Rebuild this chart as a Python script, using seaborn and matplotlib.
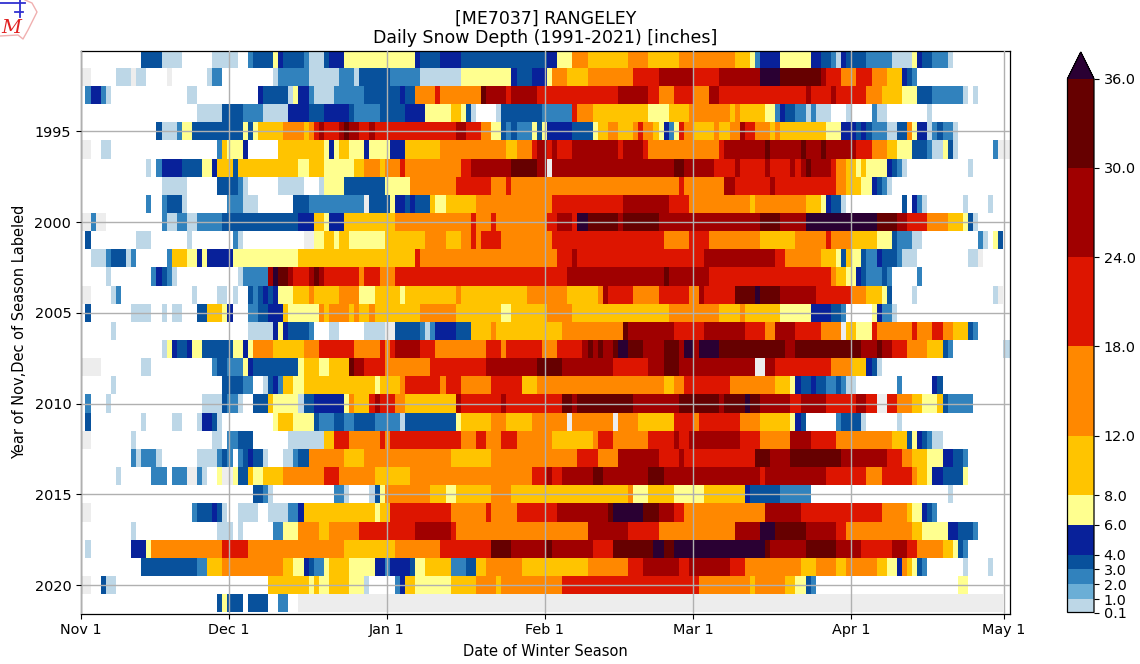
import numpy as np
import pandas as pd
import matplotlib
matplotlib.use("Agg")
import matplotlib.pyplot as plt
from matplotlib.colors import ListedColormap, BoundaryNorm
from matplotlib.lines import Line2D
import seaborn as sns

# Snow depth runs: "<class><first day index>"
Y1991 = "z0 d12 a16 z20 a26 z31 c33 d34 f38 e39 d40 c44 a45 d48 e49 f52 e66 d67 e71 d75 e92 f94 h97 g100 h108 g112 h118 g129 f132 c133 e134 f138 e144 d146 c148 a149 e150 d151 c155 a160 f164 e165 d166 c168 a171 z172"
Y1992 = "m0 z2 a7 m10 a11 z13 m17 z18 a25 c26 z28 a38 c39 a45 c51 a54 d55 c61 a67 f75 e85 d86 e89 f92 h93 g96 h100 i109 j114 i121 j126 l134 k138 j146 i147 h150 i153 h156 g159 e162 d163 c164 z165"
Y1993 = "z0 c1 e2 c4 a5 z6 a21 z23 e35 d36 a41 f42 e43 c45 a46 c50 d56 e63 d64 h66 i70 h71 k79 j80 i84 j85 i90 j106 i112 h114 i117 h121 j124 i126 j143 i144 j148 i149 h155 g158 f162 d165 c168 a174 z175 a176 z177"
Y1994 = "z0 a23 d28 c32 a36 e41 d45 e48 d53 c54 d59 e64 f68 g73 f75 d76 a77 z78 a82 d83 c91 i97 h98 g101 f112 g116 h120 g128 h129 g130 f135 c137 e138 d139 c141 a143 c144 a145 z148 a151 z152 c156 a157 z159 a167 z168"
Y1995 = "z0 d15 a16 c19 f20 d22 f32 d33 f34 g35 h40 g44 h45 i46 j47 i48 j51 k52 j53 i55 j57 i58 j74 i76 h79 f81 d83 c84 d85 c86 f89 d90 f91 e92 d97 f101 g102 h104 g106 h109 i110 h111 g113 f114 e115 c116 f117 i118 h119 g121 h125 g126 h128 j130 i131 h133 g136 h137 g138 f147 e150 d153 e154 d155 c156 a159 d161 h163 f164 e165 a167 c168 d169 c170 a172 z173"
Y1996 = "m0 z2 a4 z6 c27 g28 f29 e32 z33 g39 f48 e49 f50 g51 f53 e56 f57 e61 g64 h71 g84 h86 i89 j90 i92 j93 i94 j97 i106 j107 i111 h112 i126 j127 k135 j136 k142 j143 k146 j147 i153 h156 g159 f161 d164 c167 a168 f170 d171 a172 z173 c180 m181"
Y1997 = "z0 a13 z14 c15 e16 d20 f24 e26 g27 d30 g31 f43 g45 f48 g54 h56 g59 h60 i63 h64 i75 j77 k85 j90 m92 j93 k117 j119 i125 j129 i130 j135 i136 j140 i141 j142 k143 j144 i148 h149 g151 f153 g154 f155 e159 d160 c161 a162 z163 a175 z176"
Y1998 = "z0 a16 z21 d27 c31 a32 z33 a39 z44 a47 f48 d52 f60 h65 i74 h81 i84 h85 i118 h119 j127 i129 j136 i137 h149 g151 f154 e156 d157 c158 a159 z160"
Y1999 = "z0 c13 z14 c16 d17 a20 z21 c29 a32 z35 d42 c45 m56 d57 f61 e62 d64 e65 d66 g69 f70 g72 h78 i93 j107 i116 h120 g132 h133 g143 f146 e147 d148 a150 z151 d162 z163 e164 c165 a166 z167 a174 z175 a179 z180"
Y2000 = "m0 c2 m3 z5 c16 a17 c19 a21 c23 d28 e43 g46 f48 e49 g52 h62 i77 h78 i81 h82 i92 j94 i97 l98 k100 j106 k107 j114 k134 j138 l143 k157 j161 i163 h167 g171 f174 d175 a176 z177"
Y2001 = "z0 d1 z2 a11 z14 a21 z22 c30 a31 z32 m44 f46 g48 f50 g51 f53 g60 h68 g72 h75 i77 h78 i79 h83 i93 h115 i120 h124 g134 h141 i147 h148 g152 f157 d160 c161 a164 z166 c177 a178 z179 f180 d181 z182"
Y2002 = "z0 a2 c5 d6 a9 c10 z11 c17 g18 f21 e23 f24 e25 f30 g43 i66 h67 i94 j97 i98 j123 i137 h139 g146 f149 d150 g151 f152 d154 c155 e157 d158 c161 a162 z165 a175 m177 z178"
Y2003 = "z0 a5 z6 c14 e15 d16 c17 a18 z19 a31 c32 j37 l38 k39 j41 i42 j45 k46 j47 i48 h55 i56 h59 i62 j96 k115 j116 i124 h148 g149 f151 e153 d154 c155 d158 c159 z160 c165 z166"
Y2004 = "m0 z2 a6 c7 z8 a22 z23 a27 z29 a30 z31 d33 c34 d35 e36 d37 e38 f39 g42 h45 g46 h51 f55 g58 f63 g64 h74 g75 h88 g96 h102 j103 i104 h109 i114 h120 j122 i123 k129 l133 k134 j138 i145 h152 g155 f158 d159 z160 a164 z165 a180 m181 z182"
Y2005 = "z0 d1 z2 a10 z14 a16 z17 a18 z20 d23 g25 f28 e29 z30 c33 d35 e37 g40 f41 h47 g48 h49 g53 h54 g55 h57 g58 h67 g74 f83 g85 h92 g97 h116 g126 h130 g131 f138 e144 d148 c150 z151 f156 e157 c158 a160 z161"
Y2006 = "z0 a6 z7 a33 e38 f39 e40 d41 c45 z46 a49 z51 a56 m60 d62 c67 a68 c69 e70 d74 g77 h81 g82 h95 k107 j108 i117 j123 i131 h135 j137 i141 h146 m150 g151 f153 i156 h157 i164 h165 i168 h170 g172 d175 c176 z177"
Y2007 = "z0 a16 f17 e18 d19 e21 f22 d24 f30 e32 f33 h34 g38 h44 i47 h54 i59 h60 i61 j62 i67 h70 i80 h83 i84 h91 i94 j99 k100 j101 k102 j103 k105 l106 k108 j111 k115 j118 l119 j121 l122 k126 j139 k141 j154 k157 j158 i160 h163 g167 d170 c171 z172 a182"
Y2008 = "m0 z4 a12 z14 c26 d27 c29 f32 e33 d34 f43 g44 f47 g49 k53 j54 i56 h60 i69 j80 k90 j95 i105 j112 k115 j118 m133 j135 i137 h148 g152 e155 d156 a157 z158"
Y2009 = "z0 a6 z7 d28 c32 z34 a36 d37 e38 c39 g40 f42 g44 f58 g59 h63 i64 h71 i72 h75 i81 g87 h90 g115 h117 i119 h128 g137 f140 e141 d142 e144 d145 c147 d149 c150 a151 z153 c161 z162 e168 d169 z170"
Y2010 = "z0 c1 z2 a5 z6 a24 d28 c29 a31 z32 d34 g37 f38 a43 d44 e46 f52 h53 g54 i57 j58 i59 h62 g64 j74 i75 j83 i84 k95 j97 k98 j109 k118 j126 k127 l131 k132 j134 i140 j142 i147 j153 i155 m157 i159 h161 g164 f166 g169 d170 c171 z176"
Y2011 = "z0 d1 z2 a12 z13 a18 z20 a23 e24 d26 a27 z28 f38 g39 f42 d46 c47 d50 c52 d54 c58 a63 d64 f74 g75 h81 g84 h89 m96 h97 m105 h106 g110 i117 h121 i122 h130 g134 f140 e141 d142 z143 c149 d150 a154 z155 a161 z162"
Y2012 = "m0 z2 a10 z11 a26 z28 c29 d31 z34 a41 g48 i50 h53 i59 h60 i61 h75 i78 h80 i83 h86 g93 h101 i102 h105 i112 j117 i118 j120 i130 h134 j140 i144 h149 g160 d163 f164 e165 d166 c167 a168 z170"
Y2013 = "z0 c10 a11 c12 a15 z16 a23 c27 d28 c29 z30 c31 d32 e33 d34 a36 z37 a40 c42 d43 h45 g52 h56 g73 h81 i98 h102 j106 i114 j118 i119 k133 j136 k140 j150 i159 h162 g164 f167 e170 d172 c174 z175"
Y2014 = "z0 a7 z8 c14 z17 c18 m21 c23 a24 z25 f27 m28 f30 d31 g33 f34 g36 h40 i48 h51 g58 h65 i89 j92 i93 j95 k101 j103 k112 j115 i134 j135 i147 h155 i158 h164 g165 f167 e168 d170 f174 z175"
Y2015 = "z0 d34 c36 a37 z38 c50 a52 z53 a57 d58 f59 h60 g69 f72 g74 h81 g85 h108 f109 g112 f117 g123 e131 d132 c138 z144 a171 z172"
Y2016 = "m0 z2 c22 d23 e26 d27 a28 z29 a31 z35 a37 c41 e43 g44 f58 g59 i61 h73 i80 h81 i86 j94 k104 l105 k111 j114 i117 h119 j135 i142 h158 g163 f164 e166 d167 c168 z169"
Y2017 = "z0 a10 z11 a27 z30 a31 z32 c38 f40 h43 g47 h49 i55 j66 i73 h74 j100 i108 h114 j129 l134 k137 j143 i149 h151 g164 f166 e171 d173 c176 z177"
Y2018 = "z0 a1 z2 e10 f13 h14 i28 h33 g52 h62 i71 k81 j85 k92 j93 i101 k105 l113 k115 l117 k135 j136 k143 j149 i154 j160 i163 h165 g170 f172 d173 c174 z175"
Y2019 = "z0 d12 c23 g25 h28 g40 f42 e44 d45 c46 f48 g49 f53 e58 c60 e61 d65 f66 g68 c73 d76 g78 h80 g87 h100 i108 j111 i118 j120 i128 h131 g142 h145 g149 h151 g157 f159 e161 h162 g163 f164 d165 c166 z167 a174 z175 a179 z180"
Y2020 = "m0 z2 d4 a5 z7 g37 f45 g46 f47 g49 f53 a56 z57 c62 e63 g64 f66 g73 h78 g82 h83 i95 h122 g132 h133 g139 f141 d143 c144 z145 f173 z175"
Y2021 = "z0 d27 f28 d29 z32 d33 z37 c39 z41 m43 z182"

YEARS = list(range(1991, 2022))
RUNS = [Y1991, Y1992, Y1993, Y1994, Y1995, Y1996, Y1997, Y1998, Y1999, Y2000, Y2001,
        Y2002, Y2003, Y2004, Y2005, Y2006, Y2007, Y2008, Y2009, Y2010, Y2011, Y2012,
        Y2013, Y2014, Y2015, Y2016, Y2017, Y2018, Y2019, Y2020, Y2021]
DEPTH = dict(z=0.0, a=0.5, b=1.5, c=2.5, d=3.5, e=5.0, f=7.0, g=10.0, h=15.0,
             i=21.0, j=27.0, k=33.0, l=40.0, m=np.nan)

LEVELS = [0.1, 1, 2, 3, 4, 6, 8, 12, 18, 24, 30, 36]
COLORS = ["#BDD7E7", "#6BAED6", "#3182BD", "#08519C", "#08219A", "#FFFF8F",
          "#FFC400", "#FF8800", "#DD1500", "#A00000", "#660000"]
OVER = "#2A0033"
TICK_LABELS = ["Nov 1", "Dec 1", "Jan 1", "Feb 1", "Mar 1", "Apr 1", "May 1"]
YEAR_TICKS = [1995, 2000, 2005, 2010, 2015, 2020]

NCOL = 184
rows = []
for text in RUNS:
    toks = text.split()
    row = np.zeros(NCOL)
    for i, t in enumerate(toks):
        start = int(t[1:])
        end = int(toks[i + 1][1:]) if i + 1 < len(toks) else NCOL
        row[start:end] = DEPTH[t[0]]
    rows.append(row)
df = pd.DataFrame(rows, index=YEARS)

W, H = 1140, 664
fig = plt.figure(figsize=(W / 100, H / 100), dpi=100)
def box(l, t, r, b):
    return [l / W, 1 - b / H, (r - l) / W, (b - t) / H]
ax = fig.add_axes(box(81, 51, 1009.5, 613.5))
cax = fig.add_axes(box(1067.5, 52, 1094, 612.5))

cmap = ListedColormap(COLORS)
cmap.set_under("white")
cmap.set_over(OVER)
cmap.set_bad("#EDEDED")
norm = BoundaryNorm(LEVELS, cmap.N)

sns.heatmap(df, ax=ax, cbar_ax=cax, cmap=cmap, norm=norm, linewidths=0,
            xticklabels=False, yticklabels=False,
            cbar_kws=dict(extend="max", spacing="proportional", ticks=LEVELS, format="%.1f"))

for s in ax.spines.values():
    s.set_visible(True)
    s.set_linewidth(0.9)
ax.set_xlim(0.12, 183.2)
ax.set_ylim(31.07, 0.07)
ax.set_xticks([0.12, 29.26, 60.4, 91.6, 120.85, 152, 182.15], TICK_LABELS, rotation=0)
ax.set_yticks([YEARS.index(y) + 0.5 for y in YEAR_TICKS], YEAR_TICKS, rotation=0)
ax.tick_params(left=True, bottom=True, length=3.5, width=0.8, labelsize=10.4)
ax.set_axisbelow(False)
ax.grid(True, color="#b0b0b0", linewidth=1.0)
ax.set_xlabel("Date of Winter Season", fontsize=10.5, labelpad=5)
ax.set_ylabel("Year of Nov,Dec of Season Labeled", fontsize=10.5, labelpad=5)
ax.set_title("[ME7037] RANGELEY\nDaily Snow Depth (1991-2021) [inches]", fontsize=12.5,
             pad=6, linespacing=1.05)

cb = ax.collections[0].colorbar
cb.outline.set_visible(True)
cb.outline.set_linewidth(0.9)
cb.ax.tick_params(labelsize=10.4, length=3.5, width=0.8)
cb.ax.minorticks_off()

# small logo in the corner
def px(points):
    return [p[0] / W for p in points], [1 - p[1] / H for p in points]
xs, ys = px([(25, 0), (32, 3), (37, 12), (32, 22), (28, 30), (23, 39), (18, 35), (0, 36)])
fig.add_artist(Line2D(xs, ys, color="#F0B0B0", lw=1.0, transform=fig.transFigure))
for seg in ([(0, 3), (25, 3)], [(20, 0), (20, 17)], [(15, 12), (23, 12)]):
    xs, ys = px(seg)
    fig.add_artist(Line2D(xs, ys, color="#3030D0", lw=1.3, transform=fig.transFigure))
fig.text(1 / W, 1 - 33 / H, "M", color="#E02020", fontsize=14, style="italic", family="DejaVu Serif")

fig.savefig("out.png", dpi=100)
